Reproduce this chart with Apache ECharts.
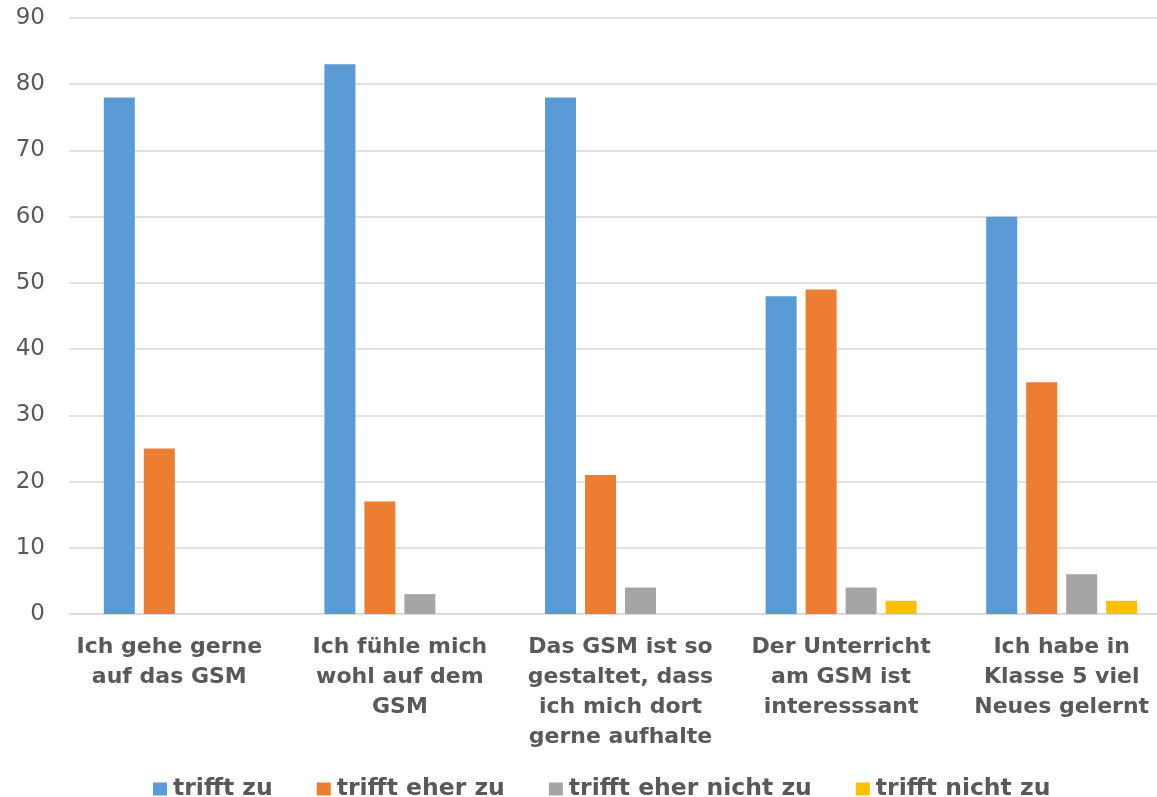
<!DOCTYPE html>
<html>
<head>
<meta charset="utf-8">
<script src="https://cdn.jsdelivr.net/npm/echarts@6/dist/echarts.min.js"></script>
<style>html,body{margin:0;padding:0;background:#fff;overflow:hidden;}#chart{width:1172px;height:797px;}</style>
</head>
<body>
<div id="chart"></div>
<script>
const categories = [
  "Ich gehe gerne\nauf das GSM",
  "Ich fühle mich\nwohl auf dem\nGSM",
  "Das GSM ist so\ngestaltet, dass\nich mich dort\ngerne aufhalte",
  "Der Unterricht\nam GSM ist\ninteresssant",
  "Ich habe in\nKlasse 5 viel\nNeues gelernt"
];
const seriesNames = ["trifft zu", "trifft eher zu", "trifft eher nicht zu", "trifft nicht zu"];
const trifftZu = [78, 83, 78, 48, 60];
const trifftEherZu = [25, 17, 21, 49, 35];
const trifftEherNichtZu = [0, 3, 4, 4, 6];
const trifftNichtZu = [0, 0, 0, 2, 2];
const yTicks = { min: 0, max: 90, interval: 10 };
const colors = ["#5B9BD5", "#ED7D31", "#A5A5A5", "#FFC000"];

const values = [trifftZu, trifftEherZu, trifftEherNichtZu, trifftNichtZu];
const chart = echarts.init(document.getElementById('chart'), null, {renderer: 'canvas'});
const font = '"DejaVu Sans", Verdana, sans-serif';
const catData = categories.map((c, i) => i === 0 ? { value: c, textStyle: { padding: [0, 20, 0, 0] } } : c);
chart.setOption({
  animation: false,
  color: colors,
  textStyle: { fontFamily: font },
  grid: { left: 69, right: 0, top: 18, height: 596, containLabel: false },
  legend: {
    left: 148, top: 772,
    icon: 'rect', itemWidth: 14, itemHeight: 13, itemGap: 44,
    textStyle: { fontFamily: font, fontWeight: 'bold', fontSize: 23.5, color: '#595959', padding: [0,0,0,1] },
    data: seriesNames
  },
  xAxis: {
    type: 'category', data: catData,
    axisLine: { show: true, lineStyle: { color: '#D9D9D9', width: 1.5 } },
    axisTick: { show: false },
    axisLabel: { interval: 0, margin: 18, fontFamily: font, fontWeight: 'bold', fontSize: 22, color: '#595959', lineHeight: 30, align: 'center' }
  },
  yAxis: {
    type: 'value', min: yTicks.min, max: yTicks.max, interval: yTicks.interval,
    axisLine: { show: false }, axisTick: { show: false },
    axisLabel: { margin: 24, fontFamily: font, fontSize: 23, color: '#595959' },
    splitLine: { lineStyle: { color: '#D9D9D9', width: 1.5 } }
  },
  series: seriesNames.map((n, i) => ({
    name: n, type: 'bar', data: values[i],
    barWidth: 31, barGap: '29%',
    itemStyle: { color: colors[i] }
  }))
});
</script>
</body>
</html>
